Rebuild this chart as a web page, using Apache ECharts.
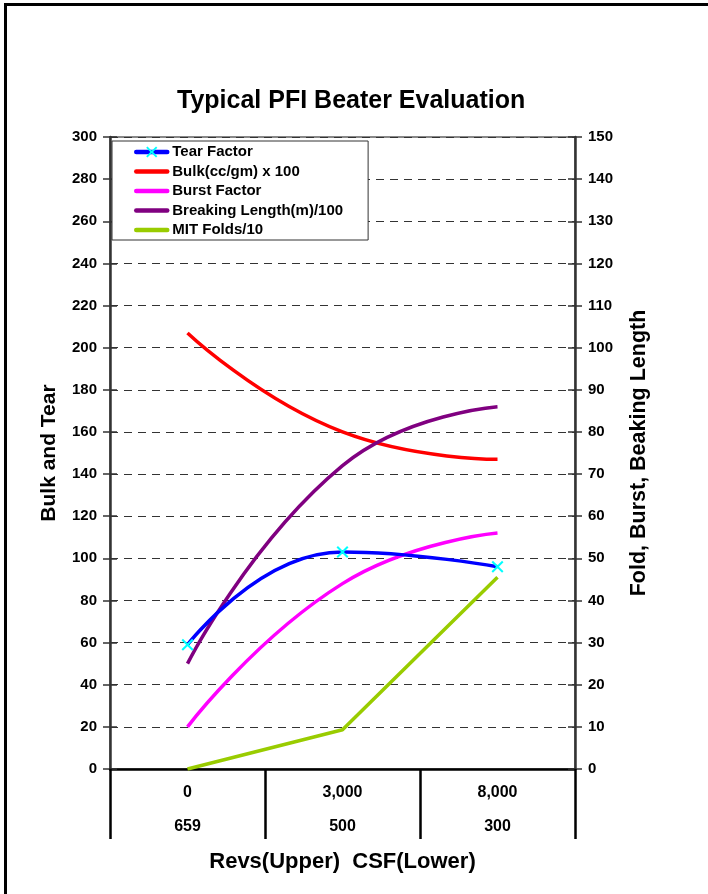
<!DOCTYPE html>
<html>
<head>
<meta charset="utf-8">
<script src="https://cdn.jsdelivr.net/npm/echarts@6/dist/echarts.min.js"></script>
<style>
html,body{margin:0;padding:0;background:#fff;}
#chart{width:708px;height:894px;}
</style>
</head>
<body>
<div id="chart"></div>
<script>
const categories = ['0\n659', '3,000\n500', '8,000\n300'];
const tearFactor = [59, 103, 96];
const bulk = [207, 160, 147];
const burstFactor = [10, 44, 56];
const breakingLength = [25, 72, 86];
const mitFolds = [0, 9.3, 45.5];
const seriesNames = ['Tear Factor', 'Bulk(cc/gm) x 100', 'Burst Factor', 'Breaking Length(m)/100', 'MIT Folds/10'];

const FONT = 'Arial, "Liberation Sans", sans-serif';
const chart = echarts.init(document.getElementById('chart'), null, {renderer: 'canvas'});
const xIcon = 'path://M0,1.2L1.2,0L5,3.8L8.8,0L10,1.2L6.2,5L10,8.8L8.8,10L5,6.2L1.2,10L0,8.8L3.8,5Z';
const noSym = {color: 'rgba(0,0,0,0)', borderWidth: 0, opacity: 0};

function yAx(pos, max, interval, opts) {
  return Object.assign({
    type: 'value', position: pos, min: 0, max: max, interval: interval,
    axisLine: {show: true, onZero: false, lineStyle: {color: '#333', width: 2.5}},
    axisTick: {show: true, inside: false, length: 7, lineStyle: {color: '#333', width: 1.5}},
    axisLabel: {show: true, margin: 13, color: '#000', fontFamily: FONT, fontWeight: 'bold', fontSize: 15},
    splitLine: {show: false}
  }, opts || {});
}

chart.setOption({
  animation: false,
  backgroundColor: '#fff',
  title: {
    text: 'Typical PFI Beater Evaluation', left: 172, top: 84,
    textStyle: {fontFamily: FONT, fontWeight: 'bold', fontSize: 25, color: '#000'}
  },
  graphic: [
    {type: 'line', shape: {x1: 4, y1: 4.5, x2: 708, y2: 4.5}, style: {stroke: '#000', lineWidth: 3}},
    {type: 'line', shape: {x1: 5.5, y1: 3, x2: 5.5, y2: 894}, style: {stroke: '#000', lineWidth: 3}}
  ],
  legend: {
    orient: 'vertical', left: 112, top: 141,
    data: [
      {name: seriesNames[0]},
      {name: seriesNames[1], itemStyle: noSym},
      {name: seriesNames[2], itemStyle: noSym},
      {name: seriesNames[3], itemStyle: noSym},
      {name: seriesNames[4], itemStyle: noSym}
    ],
    itemWidth: 31, itemHeight: 14, itemGap: 3.5,
    padding: [3, 25, 2, 22],
    lineStyle: {width: 4.5, cap: 'round'},
    backgroundColor: '#fff', borderColor: '#333', borderWidth: 1,
    textStyle: {fontFamily: FONT, fontWeight: 'bold', fontSize: 15, color: '#000', lineHeight: 16},
    z: 10
  },
  grid: {left: 110, right: 133, top: 137, bottom: 125, show: true, borderColor: '#888', borderWidth: 2, backgroundColor: 'transparent'},
  xAxis: {
    type: 'category', data: categories, boundaryGap: true, position: 'bottom',
    axisLine: {show: true, onZero: false, lineStyle: {color: '#000', width: 2.5}},
    axisTick: {show: true, interval: 0, length: 70, lineStyle: {color: '#000', width: 2.5}},
    axisLabel: {interval: 0, margin: 7, color: '#000', fontFamily: FONT, fontWeight: 'bold', fontSize: 16, lineHeight: 34},
    name: 'Revs(Upper)  CSF(Lower)', nameLocation: 'middle', nameGap: 82,
    nameTextStyle: {fontFamily: FONT, fontWeight: 'bold', fontSize: 22, color: '#000'},
    splitLine: {show: false}
  },
  yAxis: [
    yAx('left', 300, 20, {
      name: 'Bulk and Tear', nameLocation: 'middle', nameGap: 50, nameRotate: 90,
      nameTextStyle: {fontFamily: FONT, fontWeight: 'bold', fontSize: 21, color: '#000'},
      splitLine: {show: true, lineStyle: {color: '#333', width: 1, type: [8, 6]}}
    }),
    yAx('right', 150, 10, {
      name: 'Fold, Burst, Beaking Length', nameLocation: 'middle', nameGap: 53, nameRotate: 90,
      nameTextStyle: {fontFamily: FONT, fontWeight: 'bold', fontSize: 21.5, color: '#000'}
    }),
    yAx('left', 300, 20, {axisLine: {show: false}, axisLabel: {show: false},
      axisTick: {show: true, inside: true, length: 7, lineStyle: {color: '#333', width: 1.5}}}),
    yAx('right', 150, 10, {axisLine: {show: false}, axisLabel: {show: false},
      axisTick: {show: true, inside: true, length: 7, lineStyle: {color: '#333', width: 1.5}}})
  ],
  series: [
    {name: seriesNames[0], type: 'line', yAxisIndex: 0, data: tearFactor, smooth: 0.5,
      symbol: xIcon, symbolSize: 12, showSymbol: true,
      itemStyle: {color: '#00FFFF'}, lineStyle: {color: '#0000FF', width: 3.5}, z: 5},
    {name: seriesNames[1], type: 'line', yAxisIndex: 0, data: bulk, smooth: 0.5, symbol: 'none',
      itemStyle: {color: '#FF0000'}, lineStyle: {color: '#FF0000', width: 3.5}},
    {name: seriesNames[2], type: 'line', yAxisIndex: 1, data: burstFactor, smooth: 0.5, symbol: 'none',
      itemStyle: {color: '#FF00FF'}, lineStyle: {color: '#FF00FF', width: 3.5}},
    {name: seriesNames[3], type: 'line', yAxisIndex: 1, data: breakingLength, smooth: 0.5, symbol: 'none',
      itemStyle: {color: '#800080'}, lineStyle: {color: '#800080', width: 3.5}},
    {name: seriesNames[4], type: 'line', yAxisIndex: 1, data: mitFolds, smooth: false, symbol: 'none',
      itemStyle: {color: '#99CC00'}, lineStyle: {color: '#99CC00', width: 3.5}}
  ]
});
</script>
</body>
</html>
